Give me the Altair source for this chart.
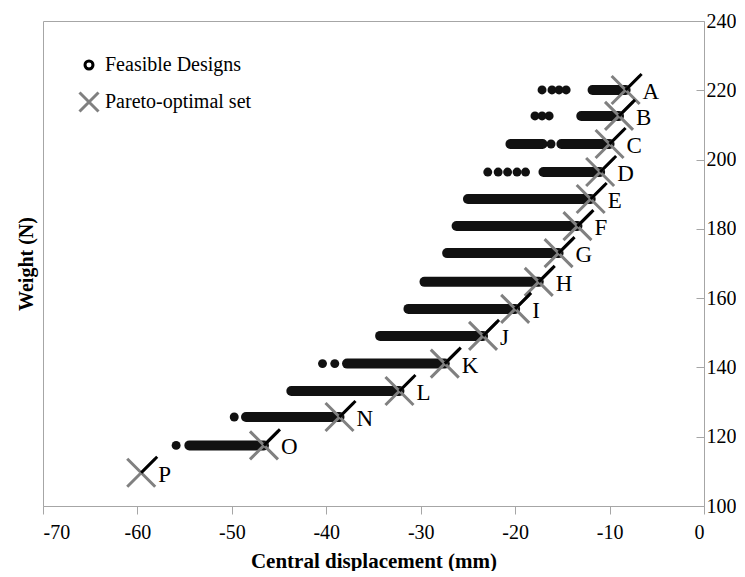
import altair as alt
import pandas as pd

# ---------------- data ----------------
letters = ["A", "B", "C", "D", "E", "F", "G", "H", "I", "J", "K", "L", "N", "O", "P"]
pareto_disp = [-8.3, -9.0, -10.0, -11.0, -12.0, -13.4, -15.4, -17.5, -20.0, -23.4,
               -27.45, -32.25, -38.6, -46.6, -59.6]
pareto_weight = [220.1, 212.6, 204.5, 196.4, 188.6, 180.8, 173.0, 164.7, 156.9, 149.1,
                 141.1, 133.2, 125.7, 117.5, 109.6]

# dense runs of overlapping feasible designs (row, start, end)
run_row = ["A", "B", "C", "C", "D", "E", "F", "G", "H", "I", "J", "K", "L", "N", "O"]
run_start = [-11.8, -13.0, -20.5, -15.1, -17.0, -25.0, -26.2, -27.2, -29.6, -31.3,
             -34.3, -37.8, -43.7, -48.5, -54.5]
run_end = [-8.3, -9.0, -17.1, -10.0, -11.0, -12.0, -13.4, -15.4, -17.5, -20.0,
           -23.4, -27.45, -32.25, -38.6, -46.6]

# isolated feasible designs (row, displacement)
dot_row = ["A", "A", "A", "A", "B", "B", "B", "C", "D", "D", "D", "D", "D",
           "K", "K", "N", "O"]
dot_disp = [-17.15, -16.1, -15.35, -14.6, -17.9, -17.15, -16.4, -16.2,
            -22.9, -21.8, -20.8, -19.8, -18.9, -40.4, -39.1, -49.75, -55.9]

series_names = ["Feasible Designs", "Pareto-optimal set"]
x_ticks = [-70, -60, -50, -40, -30, -20, -10, 0]
y_ticks = [100, 120, 140, 160, 180, 200, 220, 240]

# ---------------- tables ----------------
row_w = dict(zip(letters, pareto_weight))
pareto = pd.DataFrame({"disp": pareto_disp, "w": pareto_weight, "label": letters,
                       "series": series_names[1]})
runs = pd.DataFrame({"start": run_start, "end": run_end,
                     "w": [row_w[r] for r in run_row]})
dots = pd.DataFrame({"disp": dot_disp, "w": [row_w[r] for r in dot_row],
                     "series": series_names[0]})

FONT = "Liberation Serif"
GRAY_X = "#808080"
FRAME = "#a6a6a6"
X_PATH = "M-1,-1L1,1M-1,1L1,-1"
ARM_PATH = "M0,0L1,-1"
SMALL_CIRCLE = "M-0.42,0A0.42,0.42 0 1,0 0.42,0A0.42,0.42 0 1,0 -0.42,0"

xscale = alt.Scale(domain=[-70, 0], nice=False, zero=False)
yscale = alt.Scale(domain=[100, 240], nice=False, zero=False)

x_axis = alt.Axis(values=x_ticks, title="Central displacement (mm)", grid=False,
                  tickSize=8, tickColor=FRAME, domainColor=FRAME,
                  labelFont=FONT, labelFontSize=20, labelColor="black",
                  labelExpr="'' + datum.value", labelPadding=8,
                  titleFont=FONT, titleFontSize=21, titleFontWeight="bold",
                  titleColor="black", titlePadding=8)
y_axis_right = alt.Axis(orient="right", values=y_ticks, title=None, grid=False,
                        tickSize=8, tickColor=FRAME, domain=False, offset=-8,
                        labelFont=FONT, labelFontSize=20, labelColor="black",
                        labelPadding=2)
y_axis_left = alt.Axis(orient="left", title="Weight (N)", labels=False, ticks=False,
                       domain=False, grid=False, titleFont=FONT, titleFontSize=20,
                       titleFontWeight="bold", titleColor="black", titlePadding=7)

run_layer = alt.Chart(runs).mark_rule(color="#111111", strokeWidth=10,
                                      strokeCap="round").encode(
    x=alt.X("start:Q", scale=xscale, axis=x_axis),
    x2="end:Q",
    y=alt.Y("w:Q", scale=yscale, axis=y_axis_right),
)

dot_layer = alt.Chart(dots).mark_circle(color="#111111", size=80, opacity=1).encode(
    x=alt.X("disp:Q", scale=xscale, axis=x_axis),
    y=alt.Y("w:Q", scale=yscale, axis=None),
)

x_layer = alt.Chart(pareto).mark_point(shape=X_PATH, size=784, stroke=GRAY_X,
                                       strokeWidth=3, filled=False, opacity=1).encode(
    x=alt.X("disp:Q", scale=xscale, axis=x_axis),
    y=alt.Y("w:Q", scale=yscale, axis=None),
)

arm_layer = alt.Chart(pareto).mark_point(shape=ARM_PATH, size=1024, stroke="black",
                                         strokeWidth=3, filled=False, opacity=1).encode(
    x=alt.X("disp:Q", scale=xscale, axis=x_axis),
    y=alt.Y("w:Q", scale=yscale, axis=None),
)

label_layer = alt.Chart(pareto).mark_text(align="left", baseline="middle", dx=17, dy=2,
                                          font=FONT, fontSize=23, color="black").encode(
    x=alt.X("disp:Q", scale=xscale, axis=x_axis),
    y=alt.Y("w:Q", scale=yscale, axis=y_axis_left),
    text="label:N",
)

legend = alt.Legend(title=None, orient="none", legendX=35, legendY=33,
                    labelFont=FONT, labelFontSize=20, labelColor="black",
                    symbolSize=361, symbolStrokeWidth=3, rowPadding=11,
                    labelOffset=5, symbolType=X_PATH)

legend_layer = alt.Chart(pareto).transform_filter("false").mark_point(
    filled=False, strokeWidth=3, opacity=1).encode(
    stroke=alt.Stroke("series:N", scale=alt.Scale(domain=series_names,
                                                  range=["black", GRAY_X]),
                      legend=legend),
    shape=alt.Shape("series:N", scale=alt.Scale(domain=series_names,
                                                range=[SMALL_CIRCLE, X_PATH]),
                    legend=legend),
)

chart = alt.layer(run_layer, dot_layer, x_layer, arm_layer, label_layer,
                  legend_layer).resolve_axis(y="independent").properties(
    width=661, height=485,
    padding={"left": 8, "top": 3, "right": 0, "bottom": 0},
    background="white",
).configure_view(stroke=FRAME, strokeWidth=1)

chart.save("out.html", embed_options={"renderer": "svg", "actions": False})
